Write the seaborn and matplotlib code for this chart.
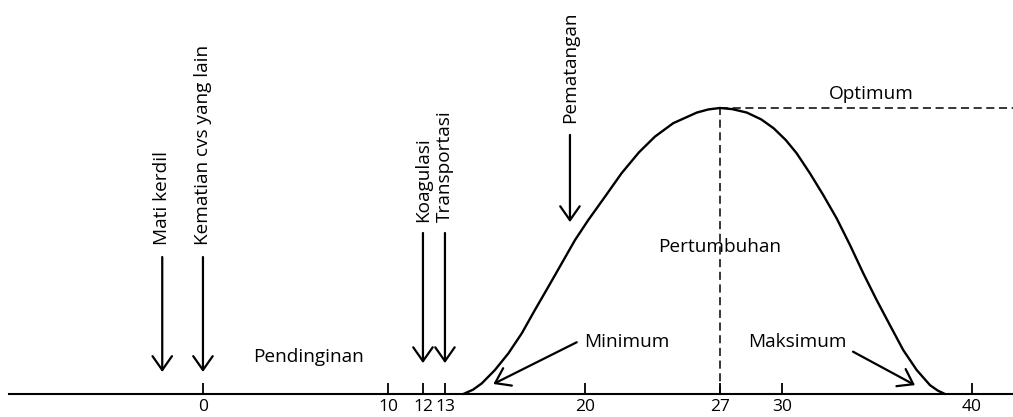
import matplotlib
matplotlib.use("Agg")
import matplotlib.pyplot as plt
import seaborn as sns
import pandas as pd
import numpy as np

# ---- data ----
curve_x = [13.92, 14.4, 14.84, 15.5, 16.17, 16.84, 17.5, 18.17, 18.84, 19.5, 20.17, 21.04,
           21.9, 22.8, 23.63, 24.58, 25.8, 26.4, 27.0, 27.6, 28.3, 29.0, 29.6, 30.2, 30.77,
           31.47, 32.17, 32.88, 33.58, 34.28, 34.98, 35.68, 36.38, 37.09, 37.79, 38.2, 38.58]
curve_y = [0, 1.5, 3.7, 8.4, 14.2, 21.2, 29.4, 37.5, 45.7, 53.8, 60.8, 69.0,
           77.2, 84.5, 90.0, 94.7, 98.4, 99.5, 100, 99.6, 98.4, 96.0, 92.9, 88.8, 84.2,
           77.2, 69.6, 61.4, 52.1, 42.2, 32.9, 24.1, 15.4, 8.4, 3.1, 1.2, 0]
tick_values = [0, 10, 12, 13, 20, 27, 30, 40]
optimum_x = 27
optimum_y = 100

# vertical labelled arrows: label, x, text bottom, arrow top, arrow tip
event_labels = ["Mati kerdil", "Kematian cvs yang lain", "Koagulasi", "Transportasi", "Pematangan"]
event_x = [-2.2, 0, 12, 13, 19.25]
event_text_y = [52.1, 52.1, 60.1, 60.1, 94.8]
event_arrow_top = [47.9, 47.9, 56.3, 56.3, 90.6]
event_arrow_tip = [7.7, 7.7, 10.8, 10.8, 60.1]

# ---- hand-drawn (slightly uneven) temperature axis, as a piecewise-linear scale ----
scale_data = [-100, 0, 10, 12, 13, 20, 27, 30, 40, 100]
scale_pos = [-1647, 203, 388, 423, 445, 585, 720, 782, 972, 2112]


def fwd(v):
    return np.interp(v, scale_data, scale_pos)


def inv(v):
    return np.interp(v, scale_pos, scale_data)


sns.set_theme(style="white")
plt.rcParams["font.family"] = ["Open Sans", "DejaVu Sans"]

fig = plt.figure(figsize=(10.13, 4.17), dpi=100)
ax = fig.add_axes([0, 0, 1, 1])
ax.set_xscale("function", functions=(fwd, inv))

df = pd.DataFrame({"x": curve_x, "y": curve_y})
sns.lineplot(data=df, x="x", y="y", ax=ax, color="black", lw=1.7, sort=False,
             estimator=None, solid_joinstyle="round", solid_capstyle="round")

xmin, xmax = -10.97, 42.16
ax.set_xlim(xmin, xmax)
ax.set_ylim(-8.04, 137.76)

# dashed optimum lines
dash = (0, (5.3, 3.0))
ax.plot([optimum_x, optimum_x], [0, optimum_y], color="black", lw=1.1, linestyle=dash)
ax.plot([optimum_x, xmax], [optimum_y, optimum_y], color="black", lw=1.1, linestyle=dash)

# axis
for s in ["left", "top", "right"]:
    ax.spines[s].set_visible(False)
ax.spines["bottom"].set_position(("data", 0))
ax.spines["bottom"].set_bounds(-10.48, xmax)
ax.spines["bottom"].set_color("black")
ax.spines["bottom"].set_linewidth(1.5)
ax.set_xticks(tick_values)
ax.set_xticklabels([str(t) for t in tick_values])
ax.xaxis.set_minor_locator(matplotlib.ticker.NullLocator())
ax.tick_params(axis="x", direction="in", length=7.9, width=1.3, pad=3.5,
               labelsize=12.5, colors="black", bottom=True)
ax.set_yticks([])
ax.set_xlabel("")
ax.set_ylabel("")

arrow_style = dict(arrowstyle="->,head_length=1.0,head_width=0.7", mutation_scale=10,
                   lw=1.6, color="black", shrinkA=0, shrinkB=0)

for lab, x, ty, at, tip in zip(event_labels, event_x, event_text_y, event_arrow_top, event_arrow_tip):
    ax.text(x, ty, lab, rotation=90, ha="center", va="bottom", fontsize=13.7, color="black")
    ax.annotate("", xy=(x, tip), xytext=(x, at), arrowprops=arrow_style)

# horizontal labels
ax.text(5.68, 11.2, "Pendinginan", ha="center", va="baseline", fontsize=13.7, color="black")
ax.text(27, 49.7, "Pertumbuhan", ha="center", va="baseline", fontsize=13.7, color="black")
ax.text(34.68, 103.1, "Optimum", ha="center", va="baseline", fontsize=13.7, color="black")
ax.text(19.95, 16.5, "Minimum", ha="left", va="baseline", fontsize=13.7, color="black")
ax.text(28.35, 16.5, "Maksimum", ha="left", va="baseline", fontsize=13.7, color="black")

ax.annotate("", xy=(15.42, 3.5), xytext=(19.59, 18.1), arrowprops=arrow_style)
ax.annotate("", xy=(37.0, 3.1), xytext=(33.74, 14.8), arrowprops=arrow_style)

fig.savefig("out.png", dpi=100)
